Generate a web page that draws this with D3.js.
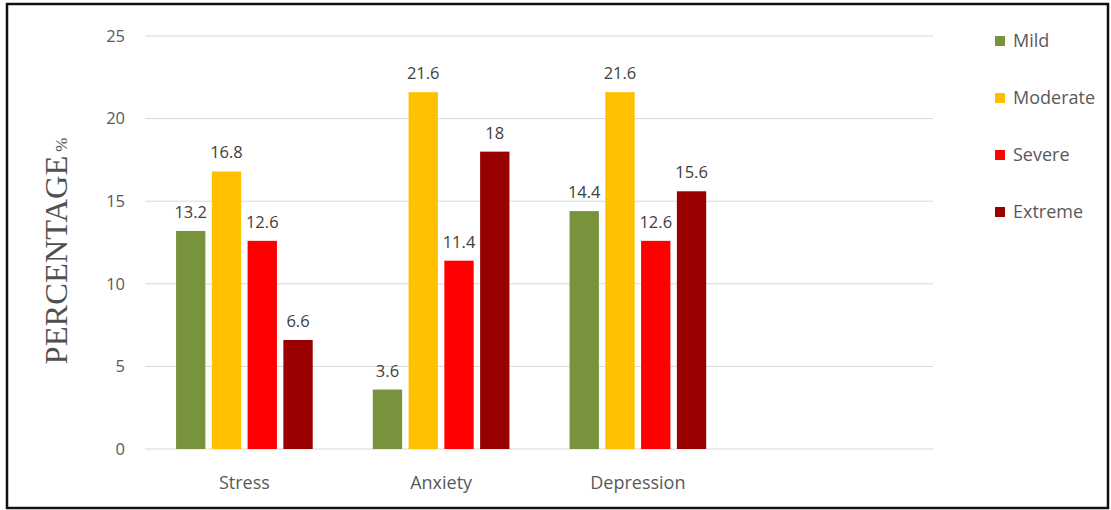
<!DOCTYPE html>
<html>
<head>
<meta charset="utf-8">
<script src="https://cdn.jsdelivr.net/npm/d3@7"></script>
<style>
  body { margin: 0; background: #fff; }
  text { font-family: "Open Sans", "DejaVu Sans", sans-serif; }
</style>
</head>
<body>
<div id="chart"></div>
<script>
var categories = ["Stress", "Anxiety", "Depression", ""];
var seriesNames = ["Mild", "Moderate", "Severe", "Extreme"];
var mild = [13.2, 3.6, 14.4];
var moderate = [16.8, 21.6, 21.6];
var severe = [12.6, 11.4, 12.6];
var extreme = [6.6, 18, 15.6];
var yTicks = [0, 5, 10, 15, 20, 25];
var colors = ["#77933c", "#ffc000", "#ff0000", "#990000"];

var values = [mild, moderate, severe, extreme];

var W = 1111, H = 510;
var margin = { top: 36, right: 178, bottom: 61, left: 146 },
    width = W - margin.left - margin.right,
    height = H - margin.top - margin.bottom;

var svg = d3.select("#chart")
    .append("svg")
    .attr("width", W)
    .attr("height", H);

// frame
svg.append("rect")
    .attr("x", 7).attr("y", 4)
    .attr("width", 1101).attr("height", 504)
    .attr("fill", "none")
    .attr("stroke", "#111")
    .attr("stroke-width", 2.5);

var g = svg.append("g")
    .attr("transform", "translate(" + margin.left + "," + margin.top + ")");

var x = d3.scaleBand()
    .domain(categories)
    .range([0, width]);

var x1 = d3.scaleBand()
    .domain(seriesNames)
    .range([0, x.bandwidth()])
    .paddingInner(0.18)
    .paddingOuter(0.84);

var y = d3.scaleLinear()
    .domain([0, 25])
    .range([height, 0]);

// gridlines
g.selectAll(".grid")
    .data(yTicks)
    .enter()
    .append("line")
    .attr("x1", -1)
    .attr("x2", width)
    .attr("y1", function (d) { return y(d) })
    .attr("y2", function (d) { return y(d) })
    .attr("stroke", "#d9d9d9")
    .attr("stroke-width", 1);

// y tick labels
g.selectAll(".ytick")
    .data(yTicks)
    .enter()
    .append("text")
    .attr("x", -21)
    .attr("y", function (d) { return y(d) })
    .attr("dy", "0.35em")
    .attr("text-anchor", "end")
    .style("font-size", "16.5px")
    .style("fill", "#595959")
    .text(function (d) { return d });

// x labels
g.selectAll(".xlab")
    .data(categories)
    .enter()
    .append("text")
    .attr("x", function (d) { return x(d) + x.bandwidth() / 2 })
    .attr("y", height + 40)
    .attr("text-anchor", "middle")
    .style("font-size", "18px")
    .style("fill", "#595959")
    .text(function (d) { return d });

// bars
seriesNames.forEach(function (s, si) {
    var data = values[si].map(function (v, i) { return { cat: categories[i], v: v } });
    g.selectAll(".bar" + si)
        .data(data)
        .enter()
        .append("rect")
        .attr("x", function (d) { return x(d.cat) + x1(s) })
        .attr("y", function (d) { return y(d.v) })
        .attr("width", x1.bandwidth())
        .attr("height", function (d) { return height - y(d.v) })
        .attr("fill", colors[si]);

    g.selectAll(".lab" + si)
        .data(data)
        .enter()
        .append("text")
        .attr("x", function (d) { return x(d.cat) + x1(s) + x1.bandwidth() / 2 })
        .attr("y", function (d) { return y(d.v) - 13 })
        .attr("text-anchor", "middle")
        .style("font-size", "16.5px")
        .style("fill", "#404040")
        .text(function (d) { return d.v });
});

// y title
var yt = svg.append("text")
    .attr("transform", "translate(67,251) rotate(-90)")
    .attr("text-anchor", "middle")
    .style("font-family", "'Liberation Serif', 'DejaVu Serif', serif")
    .style("fill", "#505050");
yt.append("tspan").style("font-size", "32.5px").text("PERCENTAGE");
yt.append("tspan").style("font-size", "17px").attr("dx", 4).text("%");

// legend
var legend = svg.selectAll(".legend")
    .data(seriesNames)
    .enter()
    .append("g")
    .attr("transform", function (d, i) { return "translate(995," + (41 + i * 57) + ")" });

legend.append("rect")
    .attr("x", 0).attr("y", -5)
    .attr("width", 10).attr("height", 10)
    .attr("fill", function (d, i) { return colors[i] });

legend.append("text")
    .attr("x", 18)
    .attr("dy", "0.35em")
    .style("font-size", "18px")
    .style("fill", "#595959")
    .text(function (d) { return d });
</script>
</body>
</html>
